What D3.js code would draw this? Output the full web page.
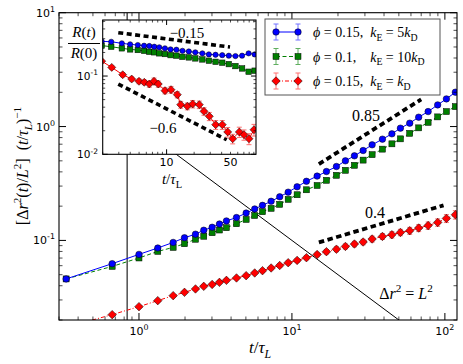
<!DOCTYPE html>
<html>
<head>
<meta charset="utf-8">
<script src="https://cdn.jsdelivr.net/npm/d3@7"></script>
<style>
  body { margin: 0; background: #fff; }
  text { fill: #000; }
</style>
</head>
<body>
<div id="chart"></div>
<script>
// ---- main panel: [dr^2(t)/L^2] (t/tau_L)^-1 vs t/tau_L ----
const tMain = [0.334, 0.668, 1.0, 1.327, 1.673, 1.984, 2.341, 2.652, 3.009, 3.358, 3.73, 4.34, 5.02, 5.71, 6.42, 7.31, 8.32, 9.45, 10.81, 12.44,
  14.61, 16.81, 19.54, 22.37, 25.62, 29.2, 33.44, 39.05, 45.04, 51.2, 58.9, 67.4, 77.7, 89.7, 102.3, 117.1];
const blueMain = [0.0459, 0.0625, 0.0754, 0.0858, 0.0960, 0.1056, 0.1134, 0.1229, 0.1305, 0.1393, 0.1483, 0.1588, 0.1739, 0.1890, 0.2032, 0.2207, 0.2416, 0.2653, 0.2958, 0.3306,
  0.3672, 0.4029, 0.4458, 0.5001, 0.5533, 0.6160, 0.6910, 0.7753, 0.8630, 0.9682, 1.071, 1.209, 1.354, 1.550, 1.750, 2.004];
const greenMain = [0.0459, 0.0591, 0.0701, 0.0801, 0.0868, 0.0935, 0.1024, 0.1088, 0.1168, 0.1234, 0.1293, 0.1401, 0.1528, 0.1654, 0.1786, 0.1912, 0.2073, 0.2293, 0.2518, 0.2784,
  0.3038, 0.3373, 0.3731, 0.4127, 0.4566, 0.5073, 0.5668, 0.6334, 0.7051, 0.7800, 0.8718, 0.9741, 1.088, 1.216, 1.354, 1.497];
const redMain = [0.01732, 0.02229, 0.02620, 0.02959, 0.03273, 0.03499, 0.03748, 0.03950, 0.04104, 0.04281, 0.04458, 0.04680, 0.04902, 0.05176, 0.05423, 0.05726, 0.06021, 0.06371, 0.06675, 0.07048,
  0.07518, 0.07961, 0.08373, 0.08859, 0.09297, 0.09683, 0.1029, 0.1084, 0.1122, 0.1175, 0.1217, 0.1285, 0.1351, 0.1438, 0.1560, 0.1681];
// relative error bars
const blueErr = 0.012, greenErr = 0.012;
const redMainErr = [0.02, 0.02, 0.02, 0.02, 0.02, 0.02, 0.025, 0.025, 0.025, 0.025, 0.03, 0.03, 0.03, 0.03, 0.035, 0.035, 0.035, 0.04, 0.04, 0.04,
  0.045, 0.045, 0.05, 0.05, 0.055, 0.055, 0.06, 0.06, 0.065, 0.065, 0.07, 0.07, 0.075, 0.075, 0.08, 0.085];

// guide lines: [t start, t end, value at start, exponent]
const guide085 = [15, 70, 0.468, 0.85];
const guide04 = [15, 98, 0.096, 0.4];
const tVertical = 0.837;          // vertical marker line
const crossLine = [1, 60];        // dr^2 = L^2  ->  y = 1/t

// ---- inset: R(t)/R(0) ----
const tInset = [1.95, 2.48, 3.24, 3.99, 4.84, 5.67, 6.47, 7.33, 8.31, 9.59, 11.05, 12.8, 14.9, 17.5, 20.6, 24.6, 29.0, 34.3, 40.6, 47.9, 56.6, 66.9, 78.9, 91.8];
const blueInset = [0.278, 0.274, 0.262, 0.254, 0.249, 0.244, 0.242, 0.237, 0.233, 0.226, 0.219, 0.217, 0.210, 0.206, 0.201, 0.195, 0.189, 0.187, 0.185, 0.182, 0.180, 0.182, 0.195, 0.189];
const greenInset = [0.245, 0.237, 0.226, 0.219, 0.215, 0.210, 0.204, 0.201, 0.195, 0.191, 0.185, 0.182, 0.176, 0.173, 0.168, 0.163, 0.157, 0.152, 0.148, 0.142, 0.134, 0.125, 0.1135, 0.117];
const tInsetRed = [1.95, 2.51, 3.31, 4.15, 4.99, 5.70, 6.47, 7.28, 8.11, 9.60, 11.17, 13.09, 14.26, 16.84, 19.29, 22.78, 25.64, 29.31, 34.43, 40.65, 46.57, 52.8, 62.4, 70.2, 79.6, 90.3];
const redInset = [0.155, 0.129, 0.104, 0.0916, 0.0857, 0.0832, 0.0791, 0.0857, 0.0791, 0.0650, 0.0669, 0.0578, 0.0431, 0.0411, 0.0439, 0.0431, 0.0354, 0.0306, 0.0239, 0.0239, 0.0193, 0.0158, 0.0193, 0.0178, 0.0158, 0.0206];
const redInsetErr = [0.05, 0.05, 0.06, 0.06, 0.07, 0.07, 0.09, 0.1, 0.09, 0.09, 0.1, 0.09, 0.1, 0.1, 0.11, 0.11, 0.11, 0.12, 0.13, 0.13, 0.14, 0.14, 0.15, 0.15, 0.16, 0.17];
const guideIn015 = [2.96, 49.4, 0.358, -0.15];
const guideIn06 = [2.96, 45.4, 0.079, -0.6];

const xTicks = [1, 10, 100], yTicks = [0.1, 1, 10];
const xTicksIn = [10, 50], yTicksIn = [0.01, 0.1];

const W = 463, H = 364;
const svg = d3.select("#chart").append("svg").attr("width", W).attr("height", H)
  .style("font-family", "'DejaVu Sans', sans-serif");

const x = d3.scaleLog().domain([0.3, 120]).range([59, 457]);
const y = d3.scaleLog().domain([0.02, 10]).range([320, 12.7]);
const xi = d3.scaleLog().domain([2, 95]).range([102.7, 256]);
const yi = d3.scaleLog().domain([0.01, 0.52]).range([154.3, 20]);

const serif = "'Liberation Serif', 'DejaVu Serif', serif";
const C = { blue: "#0000ff", green: "#007f00", red: "#ff0000" };
const CE = { blue: "#7070ff", green: "#5fae5f", red: "#ff7070" };

// text with italic / super / subscript parts
function rich(g, px, py, parts, size, anchor) {
  const t = g.append("text").attr("x", px).attr("y", py).attr("font-size", size)
    .attr("font-family", serif).attr("text-anchor", anchor || "start");
  let off = 0;
  parts.forEach(([s, k]) => {
    const target = k.includes("sup") ? -0.42 * size : k.includes("sub") ? 0.28 * size : 0;
    const ts = t.append("tspan").attr("dy", target - off).text(s);
    off = target;
    if (k.includes("sup") || k.includes("sub")) ts.attr("font-size", size * 0.7);
    if (k.includes("i")) ts.attr("font-style", "italic");
  });
  return t;
}

function powLabel(g, px, py, exp, anchor, size) {
  const t = g.append("text").attr("x", px).attr("y", py).attr("font-size", size)
    .attr("text-anchor", anchor);
  t.append("tspan").text("10");
  t.append("tspan").attr("dy", -0.45 * size).attr("font-size", size * 0.72).text(exp);
}

function minorTicks(domain) {
  const out = [];
  for (let e = Math.floor(Math.log10(domain[0])); e <= Math.ceil(Math.log10(domain[1])); e++) {
    for (let m = 1; m < 10; m++) {
      const v = m * Math.pow(10, e);
      if (v >= domain[0] * 0.999 && v <= domain[1] * 1.001) out.push({ v, major: m === 1 });
    }
  }
  return out;
}

// frame with inward ticks on all sides
function frame(g, xs, ys, majL, minL) {
  const [x0, x1] = xs.range(), [y0, y1] = ys.range();
  const tk = g.append("g").attr("stroke", "#000");
  minorTicks(xs.domain()).forEach(d => {
    const L = d.major ? majL : minL, px = xs(d.v);
    tk.append("line").attr("x1", px).attr("x2", px).attr("y1", y0).attr("y2", y0 - L).attr("stroke-width", d.major ? 1 : 0.7);
    tk.append("line").attr("x1", px).attr("x2", px).attr("y1", y1).attr("y2", y1 + L).attr("stroke-width", d.major ? 1 : 0.7);
  });
  minorTicks(ys.domain()).forEach(d => {
    const L = d.major ? majL : minL, py = ys(d.v);
    tk.append("line").attr("y1", py).attr("y2", py).attr("x1", x0).attr("x2", x0 + L).attr("stroke-width", d.major ? 1 : 0.7);
    tk.append("line").attr("y1", py).attr("y2", py).attr("x1", x1).attr("x2", x1 - L).attr("stroke-width", d.major ? 1 : 0.7);
  });
  g.append("rect").attr("x", x0).attr("y", y1).attr("width", x1 - x0).attr("height", y0 - y1)
    .attr("fill", "none").attr("stroke", "#000").attr("stroke-width", 1.1);
}

function marker(g, type, px, py, s, fill) {
  if (type === "circle") {
    g.append("circle").attr("cx", px).attr("cy", py).attr("r", s / 2)
      .attr("fill", fill).attr("stroke", "#000").attr("stroke-width", 0.5);
  } else if (type === "square") {
    g.append("rect").attr("x", px - s / 2).attr("y", py - s / 2).attr("width", s).attr("height", s)
      .attr("fill", fill).attr("stroke", "#000").attr("stroke-width", 0.5);
  } else {
    const h = s / 2;
    g.append("path").attr("d", `M${px},${py - h}L${px + h},${py}L${px},${py + h}L${px - h},${py}Z`)
      .attr("fill", fill).attr("stroke", "#000").attr("stroke-width", 0.5);
  }
}

function series(g, xs, ys, ts, vs, err, color, ecolor, type, size, dash) {
  const pts = ts.map((t, i) => ({ t, v: vs[i], e: Array.isArray(err) ? err[i] : err }));
  const eb = g.append("g").attr("stroke", ecolor).attr("stroke-width", 1);
  pts.forEach(d => {
    const px = xs(d.t), ya = ys(d.v * (1 + d.e)), yb = ys(d.v * (1 - d.e));
    if (Math.abs(yb - ya) < 1) return;
    eb.append("line").attr("x1", px).attr("x2", px).attr("y1", ya).attr("y2", yb);
    eb.append("line").attr("x1", px - 2.5).attr("x2", px + 2.5).attr("y1", ya).attr("y2", ya);
    eb.append("line").attr("x1", px - 2.5).attr("x2", px + 2.5).attr("y1", yb).attr("y2", yb);
  });
  g.append("path").datum(pts)
    .attr("fill", "none").attr("stroke", color).attr("stroke-width", 1)
    .attr("stroke-dasharray", dash)
    .attr("d", d3.line().x(d => xs(d.t)).y(d => ys(d.v)));
  pts.forEach(d => marker(g, type, xs(d.t), ys(d.v), size, color));
}

function guide(g, xs, ys, gd, w, dash) {
  const [t0, t1, v0, p] = gd;
  g.append("line")
    .attr("x1", xs(t0)).attr("y1", ys(v0))
    .attr("x2", xs(t1)).attr("y2", ys(v0 * Math.pow(t1 / t0, p)))
    .attr("stroke", "#000").attr("stroke-width", w).attr("stroke-dasharray", dash);
}

// ---- main panel ----
const defs = svg.append("defs");
defs.append("clipPath").attr("id", "clipMain").append("rect")
  .attr("x", 59).attr("y", 12.7).attr("width", 398).attr("height", 307.3);
defs.append("clipPath").attr("id", "clipIn").append("rect")
  .attr("x", 102.7).attr("y", 20).attr("width", 153.3).attr("height", 134.3);

const main = svg.append("g").attr("clip-path", "url(#clipMain)");
main.append("line").attr("x1", x(tVertical)).attr("x2", x(tVertical)).attr("y1", 12.7).attr("y2", 320)
  .attr("stroke", "#333").attr("stroke-width", 1.3);
main.append("line")
  .attr("x1", x(crossLine[0])).attr("y1", y(1 / crossLine[0]))
  .attr("x2", x(crossLine[1])).attr("y2", y(1 / crossLine[1]))
  .attr("stroke", "#000").attr("stroke-width", 1);
guide(main, x, y, guide085, 3.8, "5.5,3.5");
guide(main, x, y, guide04, 3.8, "5.5,3.5");
series(main, x, y, tMain, redMain, redMainErr, C.red, CE.red, "diamond", 8.5, "4,2,1,2");
series(main, x, y, tMain, greenMain, greenErr, C.green, CE.green, "square", 6, "4,2.5");
series(main, x, y, tMain, blueMain, blueErr, C.blue, CE.blue, "circle", 6.5, null);
frame(svg.append("g"), x, y, 7, 3.5);

xTicks.forEach(v => powLabel(svg, x(v), 335, v === 1 ? "0" : v === 10 ? "1" : "2", "middle", 11));
yTicks.forEach(v => powLabel(svg, 55, y(v) + 4, v === 0.1 ? "-1" : v === 1 ? "0" : "1", "end", 11));

rich(svg, 366, 121, [["0.85", ""]], 16, "middle");
rich(svg, 375, 218, [["0.4", ""]], 16, "middle");
rich(svg, 406, 299, [["Δ", ""], ["r", "i"], ["2", "sup"], [" = ", ""], ["L", "i"], ["2", "sup"]], 16, "middle");

rich(svg, 260, 353, [["t", "i"], ["/", ""], ["τ", "i"], ["L", "sub i"]], 17, "middle");
rich(svg, 0, 0, [["[Δ", ""], ["r", "i"], ["2", "sup"], ["(", ""], ["t", "i"], [")/", ""], ["L", "i"], ["2", "sup"],
  ["]  (", ""], ["t", "i"], ["/", ""], ["τ", "i"], ["L", "sub i"], [")", ""], ["−1", "sup"]], 16, "middle")
  .attr("transform", "translate(28,166) rotate(-90)").style("white-space", "pre");

// ---- inset ----
svg.append("rect").attr("x", 102.7).attr("y", 20).attr("width", 153.3).attr("height", 134.3).attr("fill", "#fff");
const ins = svg.append("g").attr("clip-path", "url(#clipIn)");
guide(ins, xi, yi, guideIn015, 3.6, "5,3.5");
guide(ins, xi, yi, guideIn06, 3.6, "5,3.5");
series(ins, xi, yi, tInset, greenInset, greenErr, C.green, CE.green, "square", 5.5, null);
series(ins, xi, yi, tInset, blueInset, blueErr, C.blue, CE.blue, "circle", 5.3, null);
series(ins, xi, yi, tInsetRed, redInset, redInsetErr, C.red, CE.red, "diamond", 8, "none");
frame(svg.append("g"), xi, yi, 5, 2.5);

xTicksIn.forEach(v => svg.append("text").attr("x", xi(v)).attr("y", 166).attr("font-size", 11)
  .attr("text-anchor", "middle").text(v));
yTicksIn.forEach(v => powLabel(svg, 98, yi(v) + 4, v === 0.1 ? "-1" : "-2", "end", 10.5));

rich(svg, 187, 38, [["−0.15", ""]], 15, "middle");
rich(svg, 163, 133, [["−0.6", ""]], 15, "middle");
rich(svg, 172, 184, [["t", "i"], ["/", ""], ["τ", "i"], ["L", "sub"]], 15, "middle");

rich(svg, 84, 37, [["R", "i"], ["(", ""], ["t", "i"], [")", ""]], 15, "middle");
svg.append("line").attr("x1", 68).attr("x2", 100).attr("y1", 43.5).attr("y2", 43.5).attr("stroke", "#000").attr("stroke-width", 1);
rich(svg, 84, 58, [["R", "i"], ["(0)", ""]], 15, "middle");

// ---- legend ----
const lg = svg.append("g");
lg.append("rect").attr("x", 265).attr("y", 19).attr("width", 175).attr("height", 76)
  .attr("fill", "#fff").attr("stroke", "#555").attr("stroke-width", 1);
const legendRows = [
  { c: "blue", type: "circle", size: 6.5, dash: null,
    label: [["ϕ", "i"], [" = 0.15,  ", ""], ["k", "i"], ["E", "sub"], [" = 5", ""], ["k", "i"], ["D", "sub"]] },
  { c: "green", type: "square", size: 6, dash: "4,2.5",
    label: [["ϕ", "i"], [" = 0.1,    ", ""], ["k", "i"], ["E", "sub"], [" = 10", ""], ["k", "i"], ["D", "sub"]] },
  { c: "red", type: "diamond", size: 8.5, dash: "4,2,1,2",
    label: [["ϕ", "i"], [" = 0.15,  ", ""], ["k", "i"], ["E", "sub"], [" = ", ""], ["k", "i"], ["D", "sub"]] }
];
legendRows.forEach((r, i) => {
  const cy = 32 + i * 24.5;
  [276, 298].forEach(px => {
    lg.append("line").attr("x1", px).attr("x2", px).attr("y1", cy - 8).attr("y2", cy + 8).attr("stroke", CE[r.c]);
    lg.append("line").attr("x1", px - 2.5).attr("x2", px + 2.5).attr("y1", cy - 8).attr("y2", cy - 8).attr("stroke", CE[r.c]);
    lg.append("line").attr("x1", px - 2.5).attr("x2", px + 2.5).attr("y1", cy + 8).attr("y2", cy + 8).attr("stroke", CE[r.c]);
  });
  lg.append("line").attr("x1", 276).attr("x2", 298).attr("y1", cy).attr("y2", cy)
    .attr("stroke", C[r.c]).attr("stroke-width", 1).attr("stroke-dasharray", r.dash);
  [276, 298].forEach(px => marker(lg, r.type, px, cy, r.size, C[r.c]));
  rich(lg, 313, cy + 5, r.label, 14, "start").style("white-space", "pre");
});
</script>
</body>
</html>
